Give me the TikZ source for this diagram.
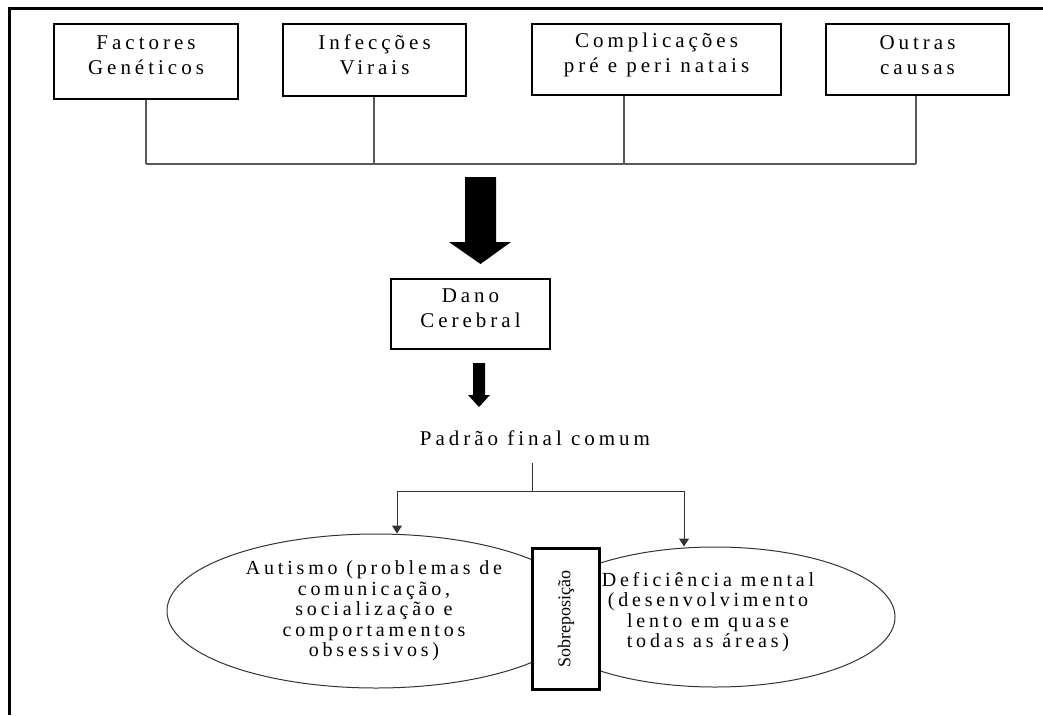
\documentclass[tikz,border=0pt]{standalone}
\usepackage{fontspec}
\setmainfont{Liberation Serif}[LetterSpace=19]
\newfontfamily\plainserif{Liberation Serif}
\usetikzlibrary{arrows.meta,shapes.geometric}
\tikzset{
  cbox/.style={draw=black, line width=1.2pt, fill=white, inner sep=0pt},
  btxt/.style={align=center, inner sep=0pt, font=\fontsize{21}{24.5}\selectfont},
  etxt/.style={align=center, inner sep=0pt, font=\fontsize{20}{20.5}\selectfont},
  rtxt/.style={inner sep=0pt, font=\plainserif\fontsize{18}{20}\selectfont},
  tree/.style={draw=black!65, line width=1.6pt},
  brline/.style={draw=black!80, line width=1pt},
  brarrow/.style={brline, -{Triangle[width=10pt,length=8pt]}},
  oval/.style={draw=black!80, line width=1pt, fill=white, ellipse},
  blockarrow/.style={fill=black},
}
\begin{document}
\begin{tikzpicture}[x=1pt, y=-1pt]
\useasboundingbox (0,0) rectangle (1043,715);
% frame
\draw[line width=3pt] (9.5,715) -- (9.5,8) -- (1043,8);
% top boxes
\node[cbox, minimum width=184pt, minimum height=75pt] (f) at (146,61.5) {};
\node[btxt] (ft) at (146,55) {Factores\\Genéticos};
\node[cbox, minimum width=183pt, minimum height=72pt] (i) at (374.5,60) {};
\node[btxt] (it) at (374.5,55) {Infecções\\Virais};
\node[cbox, minimum width=249pt, minimum height=71pt] (c) at (656.5,59.5) {};
\node[btxt] (ct) at (656.5,55) {Complicações\\pré e peri natais};
\node[cbox, minimum width=183pt, minimum height=71pt] (o) at (917.5,59.5) {};
\node[btxt] (ot) at (917.5,55) {Outras\\causas};
% tree
\coordinate (j1) at (146,164);
\coordinate (j2) at (374,164);
\coordinate (j3) at (624,164);
\coordinate (j4) at (916,164);
\draw[tree] (f.south -| j1) -- (j1);
\draw[tree] (i.south -| j2) -- (j2);
\draw[tree] (c.south -| j3) -- (j3);
\draw[tree] (o.south -| j4) -- (j4);
\draw[tree] (j1) -- (j4);
% big block arrow
\fill[blockarrow] (465,177) -- (496,177) -- (496,242) -- (511,242) -- (480.5,264) -- (449,242) -- (465,242) -- cycle;
% Dano Cerebral
\node[cbox, minimum width=159pt, minimum height=70pt] (d) at (470.5,314) {};
\node[btxt] (dt) at (470.5,308) {Dano\\Cerebral};
% small block arrow
\fill[blockarrow] (473,363) -- (485,363) -- (485,395) -- (490,395) -- (479,407) -- (468,395) -- (473,395) -- cycle;
% common pattern
\node[btxt] (p) at (535,438) {Padrão final comum};
% ellipses
\node[oval, minimum width=418pt, minimum height=154pt, inner sep=0pt] (a) at (376,611) {};
\node[oval, minimum width=360pt, minimum height=140pt, inner sep=0pt] (m) at (715,617) {};
\node[etxt] (at) at (374,611) {Autismo (problemas de\\comunicação,\\socialização e\\comportamentos\\obsessivos)};
\node[etxt] (mt) at (708,612) {Deficiência mental\\(desenvolvimento\\lento em quase\\todas as áreas)};
% overlap box
\node[draw=black, line width=3pt, fill=white, minimum width=67pt, minimum height=141pt, inner sep=0pt] (s) at (566,619) {};
\node[rtxt, rotate=90] (st) at (566,619) {Sobreposição};
% branch
\coordinate (b0) at (532,463);
\coordinate (b1) at (532,491);
\coordinate (bl) at (397,491);
\coordinate (br) at (684,491);
\draw[brline] (b0) -- (b1);
\draw[brline] (bl) -- (br);
\draw[brarrow] (bl) -- (bl |- a.north);
\draw[brarrow] (br) -- (br |- m.north);
\end{tikzpicture}
\end{document}
